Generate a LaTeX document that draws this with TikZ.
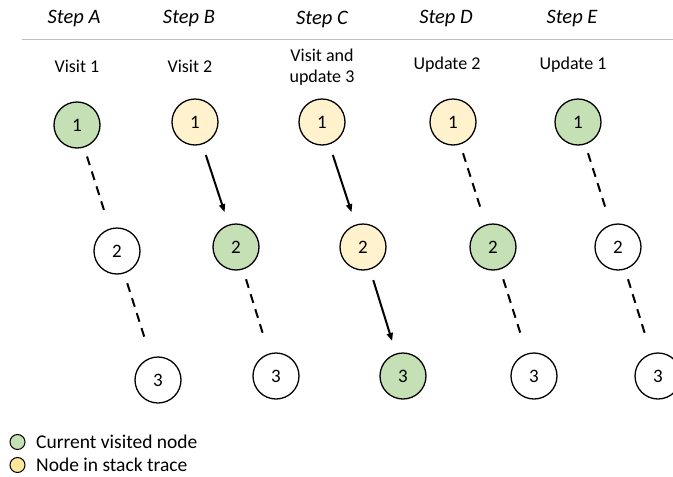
\documentclass[tikz,border=0pt]{standalone}
\usepackage{fontspec}
\setmainfont{Carlito}
\usetikzlibrary{arrows.meta,calc}
\definecolor{visited}{HTML}{C5E0B4}
\definecolor{stacked}{HTML}{FFF2CC}
\definecolor{stackedkey}{HTML}{FFE699}
\definecolor{rulegray}{HTML}{BFBFBF}
\tikzset{
  tnode/.style={circle, draw=black, line width=1.3pt, minimum size=46pt, inner sep=0pt,
    font=\fontsize{19}{22}\selectfont},
  cur/.style={tnode, fill=visited},
  stk/.style={tnode, fill=stacked},
  plain/.style={tnode, fill=white},
  link/.style={line width=2pt, dash pattern=on 9pt off 6.67pt},
  call/.style={line width=2pt, -{Triangle[length=8pt,width=6pt]}, shorten <=11pt, shorten >=13pt},
  steplabel/.style={font=\fontsize{20.5}{24}\selectfont\itshape},
  actlabel/.style={font=\fontsize{18}{21}\selectfont, align=center},
  keydot/.style={circle, draw=black, line width=1pt, minimum size=15pt, inner sep=0pt},
  keytext/.style={anchor=west, font=\fontsize{19.5}{23}\selectfont, inner sep=0pt}
}
% dashed tree edge between two nodes, covering the middle part of the gap
\newcommand{\treelink}[2]{\draw[link] ($(#1)!0.25!(#2)$) -- ($(#1)!0.705!(#2)$);}
\begin{document}
\begin{tikzpicture}[x=1pt, y=-1pt]
\useasboundingbox (0,0) rectangle (673,477);

% header
\node[steplabel] (sa) at (74,19) {Step A};
\node[steplabel] (sb) at (189,19) {Step B};
\node[steplabel] (sc) at (322,19) {Step C};
\node[steplabel] (sd) at (446,19) {Step D};
\node[steplabel] (se) at (572,19) {Step E};
\draw[rulegray, line width=1pt] (22,39.5) -- (673,39.5);

% actions
\node[actlabel] (la) at (77,66) {Visit 1};
\node[actlabel] (lb) at (190,66) {Visit 2};
\node[actlabel] (lc) at (322,67) {Visit and\\update 3};
\node[actlabel] (ld) at (447,65) {Update 2};
\node[actlabel] (le) at (573,65) {Update 1};

% Step A
\node[cur]   (a1) at (77,125) {1};
\node[plain] (a2) at (117,251) {2};
\node[plain] (a3) at (158,380) {3};
\treelink{a1}{a2}
\treelink{a2}{a3}

% Step B
\node[stk]   (b1) at (195,122) {1};
\node[cur]   (b2) at (236,247) {2};
\node[plain] (b3) at (276,376) {3};
\draw[call] (b1) -- (b2);
\treelink{b2}{b3}

% Step C
\node[stk] (c1) at (322,122) {1};
\node[stk] (c2) at (363,247) {2};
\node[cur] (c3) at (403,376) {3};
\draw[call] (c1) -- (c2);
\draw[call] (c2) -- (c3);

% Step D
\node[stk]   (d1) at (453,122) {1};
\node[cur]   (d2) at (493,247) {2};
\node[plain] (d3) at (534,376) {3};
\treelink{d1}{d2}
\treelink{d2}{d3}

% Step E
\node[cur]   (e1) at (578,122) {1};
\node[plain] (e2) at (618,247) {2};
\node[plain] (e3) at (658,376) {3};
\treelink{e1}{e2}
\treelink{e2}{e3}

% legend
\node[keydot, fill=visited]    (k1) at (17.5,442) {};
\node[keytext] (t1) at (36,442) {Current visited node};
\node[keydot, fill=stackedkey] (k2) at (17.5,465) {};
\node[keytext] (t2) at (36,465) {Node in stack trace};
\end{tikzpicture}
\end{document}
